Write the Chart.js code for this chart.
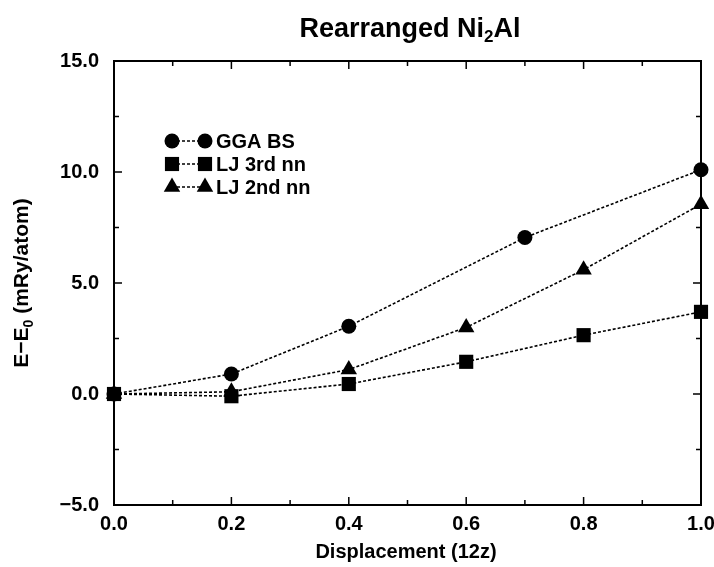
<!DOCTYPE html>
<html>
<head>
<meta charset="utf-8">
<script src="https://cdn.jsdelivr.net/npm/chart.js@4/dist/chart.umd.min.js"></script>
<style>
html,body{margin:0;padding:0;background:#fff;}
#wrap{width:714px;height:567px;}
</style>
</head>
<body>
<div id="wrap"><canvas id="c" width="714" height="567"></canvas></div>
<script>
const ggaX = [0.0, 0.2, 0.4, 0.7, 1.0];
const ggaY = [0.0, 0.9, 3.05, 7.05, 10.1];
const lj3X = [0.0, 0.2, 0.4, 0.6, 0.8, 1.0];
const lj3Y = [0.0, -0.1, 0.45, 1.45, 2.65, 3.7];
const lj2X = [0.0, 0.2, 0.4, 0.6, 0.8, 1.0];
const lj2Y = [0.0, 0.1, 1.1, 3.0, 5.6, 8.55];
const seriesNames = ['GGA BS', 'LJ 3rd nn', 'LJ 2nd nn'];
const xTicks = [0.0, 0.2, 0.4, 0.6, 0.8, 1.0];
const yTicks = [-5.0, 0.0, 5.0, 10.0, 15.0];

const FONT = '"Liberation Sans", Arial, Helvetica, sans-serif';
const pts = (xs, ys) => xs.map((x, i) => ({x: x, y: ys[i]}));
const styles = [
  {pointStyle: 'circle', radius: 7.5},
  {pointStyle: 'rect', radius: 10},
  {pointStyle: 'triangle', radius: 9.5}
];
const mk = (name, data, s) => ({
  label: name, data: data, showLine: true,
  borderColor: '#000', backgroundColor: '#000', borderWidth: 1.6,
  borderDash: [3, 2], pointStyle: s.pointStyle, pointRadius: s.radius,
  pointBorderWidth: 0, pointBackgroundColor: '#000', tension: 0
});

function fmt(v){ return (v < 0 ? '\u2212' : '') + Math.abs(v).toFixed(1); }

const deco = {
  id: 'deco',
  afterDraw(chart) {
    const ctx = chart.ctx, a = chart.chartArea;
    const xs = chart.scales.x, ys = chart.scales.y;
    ctx.save();
    ctx.strokeStyle = '#000';
    ctx.lineWidth = 2;
    ctx.setLineDash([]);
    ctx.strokeRect(a.left, a.top, a.right - a.left, a.bottom - a.top);
    ctx.lineWidth = 1.5;
    for (let i = 1; i < 10; i++) {
      const v = i / 10, px = xs.getPixelForValue(v);
      const L = (i % 2 === 0) ? 8 : 5;
      ctx.beginPath();
      ctx.moveTo(px, a.bottom); ctx.lineTo(px, a.bottom - L);
      ctx.moveTo(px, a.top); ctx.lineTo(px, a.top + L);
      ctx.stroke();
    }
    for (let i = 1; i < 8; i++) {
      const v = -5 + i * 2.5, py = ys.getPixelForValue(v);
      const L = (i % 2 === 0) ? 8 : 5;
      ctx.beginPath();
      ctx.moveTo(a.left, py); ctx.lineTo(a.left + L, py);
      ctx.moveTo(a.right, py); ctx.lineTo(a.right - L, py);
      ctx.stroke();
    }
    // title
    ctx.fillStyle = '#000';
    ctx.textBaseline = 'alphabetic';
    const tf = 'bold 27px ' + FONT, sf = 'bold 17px ' + FONT;
    const p1 = 'Rearranged Ni', p2 = '2', p3 = 'Al';
    ctx.font = tf; const w1 = ctx.measureText(p1).width, w3 = ctx.measureText(p3).width;
    ctx.font = sf; const w2 = ctx.measureText(p2).width;
    const tw = w1 + w2 + w3;
    let tx = 410 - tw / 2;
    const ty = 37;
    ctx.textAlign = 'left';
    ctx.font = tf; ctx.fillText(p1, tx, ty);
    ctx.font = sf; ctx.fillText(p2, tx + w1, ty + 5);
    ctx.font = tf; ctx.fillText(p3, tx + w1 + w2, ty);
    // x title
    ctx.font = 'bold 20px ' + FONT;
    ctx.textAlign = 'center';
    ctx.fillText('Displacement (12z)', 406, 558);
    // y title
    ctx.save();
    ctx.translate(28, (a.top + a.bottom) / 2);
    ctx.rotate(-Math.PI / 2);
    const yf = 'bold 21px ' + FONT, ysf = 'bold 14px ' + FONT;
    const q1 = 'E\u2212E', q2 = '0', q3 = ' (mRy/atom)';
    ctx.font = yf; const u1 = ctx.measureText(q1).width, u3 = ctx.measureText(q3).width;
    ctx.font = ysf; const u2 = ctx.measureText(q2).width;
    let qx = -(u1 + u2 + u3) / 2;
    ctx.textAlign = 'left';
    ctx.font = yf; ctx.fillText(q1, qx, 0);
    ctx.font = ysf; ctx.fillText(q2, qx + u1, 5);
    ctx.font = yf; ctx.fillText(q3, qx + u1 + u2, 0);
    ctx.restore();
    // legend
    const rows = [141, 164, 187];
    const mx1 = 172, mx2 = 205, txx = 216;
    chart.data.datasets.forEach((ds, i) => {
      const y = rows[i];
      ctx.save();
      ctx.lineWidth = 1.6; ctx.setLineDash([3, 2]);
      ctx.beginPath(); ctx.moveTo(mx1, y); ctx.lineTo(mx2, y); ctx.stroke();
      ctx.restore();
      const opt = {pointStyle: ds.pointStyle, radius: ds.pointRadius, borderWidth: 0};
      ctx.fillStyle = '#000';
      Chart.helpers.drawPoint(ctx, opt, mx1, y);
      Chart.helpers.drawPoint(ctx, opt, mx2, y);
      ctx.font = 'bold 20px ' + FONT;
      ctx.textAlign = 'left';
      ctx.textBaseline = 'middle';
      ctx.fillText(ds.label, txx, y + 1);
    });
    ctx.restore();
  }
};

new Chart(document.getElementById('c'), {
  type: 'scatter',
  data: {
    datasets: [
      mk(seriesNames[0], pts(ggaX, ggaY), styles[0]),
      mk(seriesNames[1], pts(lj3X, lj3Y), styles[1]),
      mk(seriesNames[2], pts(lj2X, lj2Y), styles[2])
    ]
  },
  options: {
    responsive: false,
    animation: false,
    clip: false,
    layout: {padding: {top: 61, right: 0, left: 0, bottom: 0}},
    plugins: {legend: {display: false}, tooltip: {enabled: false}, title: {display: false}},
    scales: {
      x: {
        type: 'linear', min: 0, max: 1,
        afterFit(s) { s.height = 62; s.paddingRight = 13; },
        afterBuildTicks(s) { s.ticks = xTicks.map(v => ({value: v})); },
        grid: {display: false, drawTicks: false},
        border: {display: false},
        ticks: {color: '#000', padding: 7, font: {family: FONT, size: 20, weight: 'bold'}, callback: v => fmt(v), maxRotation: 0}
      },
      y: {
        type: 'linear', min: -5, max: 15,
        afterFit(s) { s.width = 114; },
        afterBuildTicks(s) { s.ticks = yTicks.map(v => ({value: v})); },
        grid: {display: false, drawTicks: false},
        border: {display: false},
        ticks: {color: '#000', padding: 15, font: {family: FONT, size: 20, weight: 'bold'}, callback: v => fmt(v)}
      }
    }
  },
  plugins: [deco]
});
</script>
</body>
</html>
